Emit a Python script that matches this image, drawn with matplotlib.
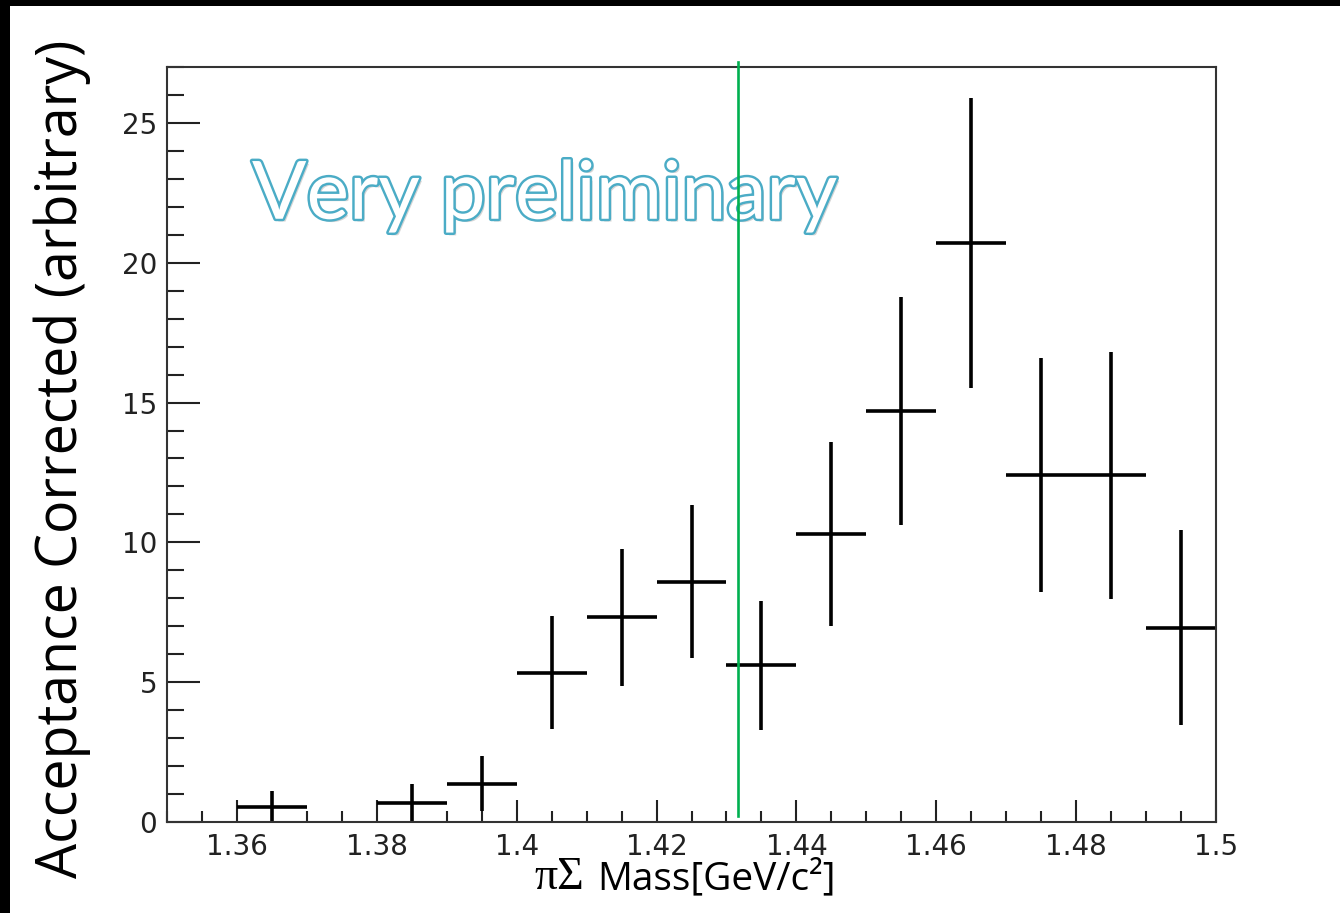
import numpy as np
import matplotlib.pyplot as plt
import matplotlib.patheffects as pe
from matplotlib.patches import Rectangle
from matplotlib.ticker import MultipleLocator, FuncFormatter

# bin centres (GeV/c^2), bin width 0.01, values and errors
mass = [1.365, 1.385, 1.395, 1.405, 1.415, 1.425, 1.435,
        1.445, 1.455, 1.465, 1.475, 1.485, 1.495]
counts = [0.55, 0.68, 1.37, 5.33, 7.33, 8.6, 5.6,
          10.3, 14.7, 20.7, 12.4, 12.4, 6.95]
errors = [0.55, 0.68, 0.98, 2.02, 2.45, 2.73, 2.3,
          3.28, 4.08, 5.18, 4.18, 4.42, 3.48]
bin_half = 0.005
cut_mass = 1.4317

fig = plt.figure(figsize=(13.4, 9.13), dpi=100)
fig.patch.set_facecolor('white')
ax = fig.add_axes([0.1246, 0.0997, 0.7829, 0.8269])

ax.errorbar(mass, counts, xerr=bin_half, yerr=errors, fmt='none',
            ecolor='black', elinewidth=2.6, capsize=0)

ax.plot([cut_mass, cut_mass], [0.2, 27.17], color='#00B050', lw=1.9,
        clip_on=False, zorder=5)

ax.set_xlim(1.35, 1.5)
ax.set_ylim(0, 27)

ax.xaxis.set_major_locator(MultipleLocator(0.02))
ax.xaxis.set_minor_locator(MultipleLocator(0.005))
ax.yaxis.set_major_locator(MultipleLocator(5))
ax.yaxis.set_minor_locator(MultipleLocator(1))
ax.xaxis.set_major_formatter(FuncFormatter(lambda v, p: '%g' % round(v, 3)))

for s in ax.spines.values():
    s.set_linewidth(1.5)
    s.set_color('#333333')

ax.tick_params(axis='both', which='both', direction='in', color='#222222',
               width=1.5, top=False, right=False, labelcolor='#222222')
ax.tick_params(axis='x', which='major', length=16, pad=8, labelsize=20)
ax.tick_params(axis='x', which='minor', length=8)
ax.tick_params(axis='y', which='major', length=24, pad=7, labelsize=20)
ax.tick_params(axis='y', which='minor', length=12)
for lab in ax.get_xticklabels() + ax.get_yticklabels():
    lab.set_fontfamily('DejaVu Sans')

ax.text(0.081, 0.799, 'Very preliminary', transform=ax.transAxes,
        fontsize=58, family='Lato', color='white', ha='left', va='baseline',
        path_effects=[pe.SimplePatchShadow(offset=(2, -2), shadow_rgbFace='#888888', alpha=0.35),
                      pe.Stroke(linewidth=3.5, foreground='#4BACC6'),
                      pe.Normal()])

fig.text(62 / 1340, 0.497, 'Acceptance Corrected (arbitrary)', rotation=90,
         ha='center', va='center', fontsize=40, family='Open Sans', color='black')

fig.text(584 / 1340, 24 / 913, 'πΣ', ha='right', va='baseline', fontsize=33,
         family='Liberation Serif', color='black')
fig.text(597 / 1340, 24 / 913, 'Mass[GeV/c²]', ha='left', va='baseline', fontsize=28,
         family='Open Sans', color='black')

# black frame strips at the top and left edges of the screenshot
fig.patches.append(Rectangle((0, 1 - 6 / 913), 1, 6 / 913, transform=fig.transFigure,
                             facecolor='black', edgecolor='none', zorder=10))
fig.patches.append(Rectangle((0, 0), 10 / 1340, 1, transform=fig.transFigure,
                             facecolor='black', edgecolor='none', zorder=10))

fig.savefig('out.png', dpi=100)
